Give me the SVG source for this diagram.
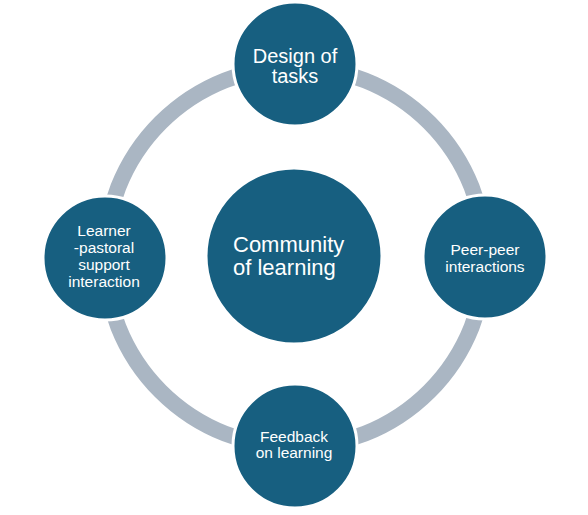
<svg xmlns="http://www.w3.org/2000/svg" width="588" height="515" viewBox="0 0 588 515">
  <style>
    .node { fill: #175F80; stroke: #FFFFFF; stroke-width: 3; }
    .lbl { fill: #FFFFFF; font-family: "Liberation Sans", Arial, sans-serif; }
    .ring { fill: none; stroke: #AAB6C3; stroke-width: 16; }
  </style>
  <rect x="0" y="0" width="588" height="515" fill="#FFFFFF"/>
  <g id="connectors">
    <circle class="ring" cx="295" cy="257" r="190"/>
  </g>
  <g id="node-center">
    <circle class="node" cx="294" cy="256" r="88"/>
    <text class="lbl" font-size="22" x="233" y="252">Community</text>
    <text class="lbl" font-size="22" x="233" y="275">of learning</text>
  </g>
  <g id="node-design">
    <circle class="node" cx="295" cy="64" r="62"/>
    <text class="lbl" font-size="20" text-anchor="middle" x="295" y="63">Design of</text>
    <text class="lbl" font-size="20" text-anchor="middle" x="295" y="83">tasks</text>
  </g>
  <g id="node-peer">
    <circle class="node" cx="485" cy="257" r="62"/>
    <text class="lbl" font-size="15.5" text-anchor="middle" x="485" y="255">Peer-peer</text>
    <text class="lbl" font-size="15.5" text-anchor="middle" x="485" y="272">interactions</text>
  </g>
  <g id="node-feedback">
    <circle class="node" cx="295" cy="446" r="62"/>
    <text class="lbl" font-size="15.5" text-anchor="middle" x="294" y="442">Feedback</text>
    <text class="lbl" font-size="15.5" text-anchor="middle" x="294" y="458">on learning</text>
  </g>
  <g id="node-learner">
    <circle class="node" cx="105" cy="258" r="62"/>
    <text class="lbl" font-size="15.5" text-anchor="middle" x="104" y="236">Learner</text>
    <text class="lbl" font-size="15.5" text-anchor="middle" x="104" y="253">-pastoral</text>
    <text class="lbl" font-size="15.5" text-anchor="middle" x="104" y="270">support</text>
    <text class="lbl" font-size="15.5" text-anchor="middle" x="104" y="287">interaction</text>
  </g>
</svg>
